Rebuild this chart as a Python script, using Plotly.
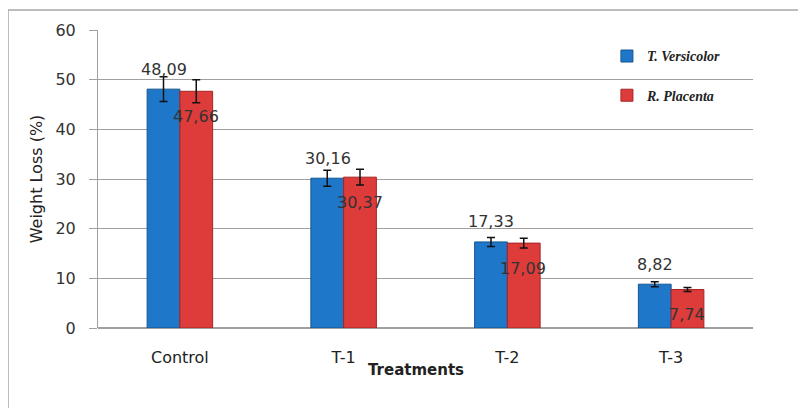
import plotly.graph_objects as go

categories = ["Control", "T-1", "T-2", "T-3"]
versicolor = [48.09, 30.16, 17.33, 8.82]
placenta = [47.66, 30.37, 17.09, 7.74]
versicolor_err = [2.5, 1.6, 0.9, 0.5]
placenta_err = [2.3, 1.6, 1.0, 0.4]
versicolor_labels = ["48,09", "30,16", "17,33", "8,82"]
placenta_labels = ["47,66", "30,37", "17,09", "7,74"]
y_ticks = [0, 10, 20, 30, 40, 50, 60]

fig = go.Figure()
fig.add_trace(go.Bar(
    x=categories, y=versicolor, name="T. Versicolor", legendgroup="a",
    marker=dict(color="#1f77c9", line=dict(color="#15558f", width=1)),
    error_y=dict(type="data", array=versicolor_err, color="#111", thickness=1.5, width=4),
))
fig.add_trace(go.Bar(
    x=categories, y=placenta, name="R. Placenta", legendgroup="b",
    marker=dict(color="#de3b3b", line=dict(color="#a52424", width=1)),
    error_y=dict(type="data", array=placenta_err, color="#111", thickness=1.5, width=4),
))

annotations = []
for c, v, t in zip(categories, versicolor, versicolor_labels):
    annotations.append(dict(x=c, y=v, text=t, xref="x", yref="y", showarrow=False,
                            xshift=-16, yshift=20, font=dict(family="DejaVu Sans", size=16, color="#333")))
for c, v, t in zip(categories, placenta, placenta_labels):
    annotations.append(dict(x=c, y=v, text=t, xref="x", yref="y", showarrow=False,
                            xshift=16, yshift=-25, font=dict(family="DejaVu Sans", size=16, color="#333")))
annotations.append(dict(x=0.4855, y=-0.141, xref="paper", yref="paper", text="<b>Treatments</b>",
                        showarrow=False, xanchor="center", yanchor="middle",
                        font=dict(family="DejaVu Sans", size=15, color="#222")))

fig.update_layout(
    width=798, height=400,
    margin=dict(l=90, r=53, t=22, b=80),
    paper_bgcolor="white", plot_bgcolor="white",
    barmode="group", bargap=0.6, bargroupgap=0,
    font=dict(family="DejaVu Sans", size=15, color="#333"),
    showlegend=True,
    legend=dict(x=0.777, y=0.965, xanchor="left", yanchor="top", tracegroupgap=18,
                bgcolor="rgba(0,0,0,0)",
                font=dict(family="Liberation Serif", size=14, color="#222", style="italic", weight="bold")),
    annotations=annotations,
    shapes=[dict(type="rect", xref="paper", yref="paper", x0=-0.1374, x1=1.3, y0=-0.6, y1=1.067,
                 line=dict(color="#a8a8a8", width=1.5), fillcolor="rgba(0,0,0,0)", layer="below")],
    xaxis=dict(type="category", range=[-0.5, 3.5], showgrid=False, ticks="", showline=False,
               ticklabelstandoff=18, tickfont=dict(size=16, color="#222"), zeroline=False),
    yaxis=dict(range=[0, 60], tickvals=y_ticks, showgrid=True, gridcolor="#a0a0a0", gridwidth=1,
               showline=True, linecolor="#a0a0a0", linewidth=1, ticks="outside", ticklen=8,
               tickcolor="#a0a0a0", ticklabelstandoff=10, zeroline=True, zerolinecolor="#a0a0a0",
               tickfont=dict(size=16, color="#333"),
               title=dict(text="Weight Loss (%)", font=dict(size=16, color="#222"), standoff=8)),
)

fig.write_html("out.html")
